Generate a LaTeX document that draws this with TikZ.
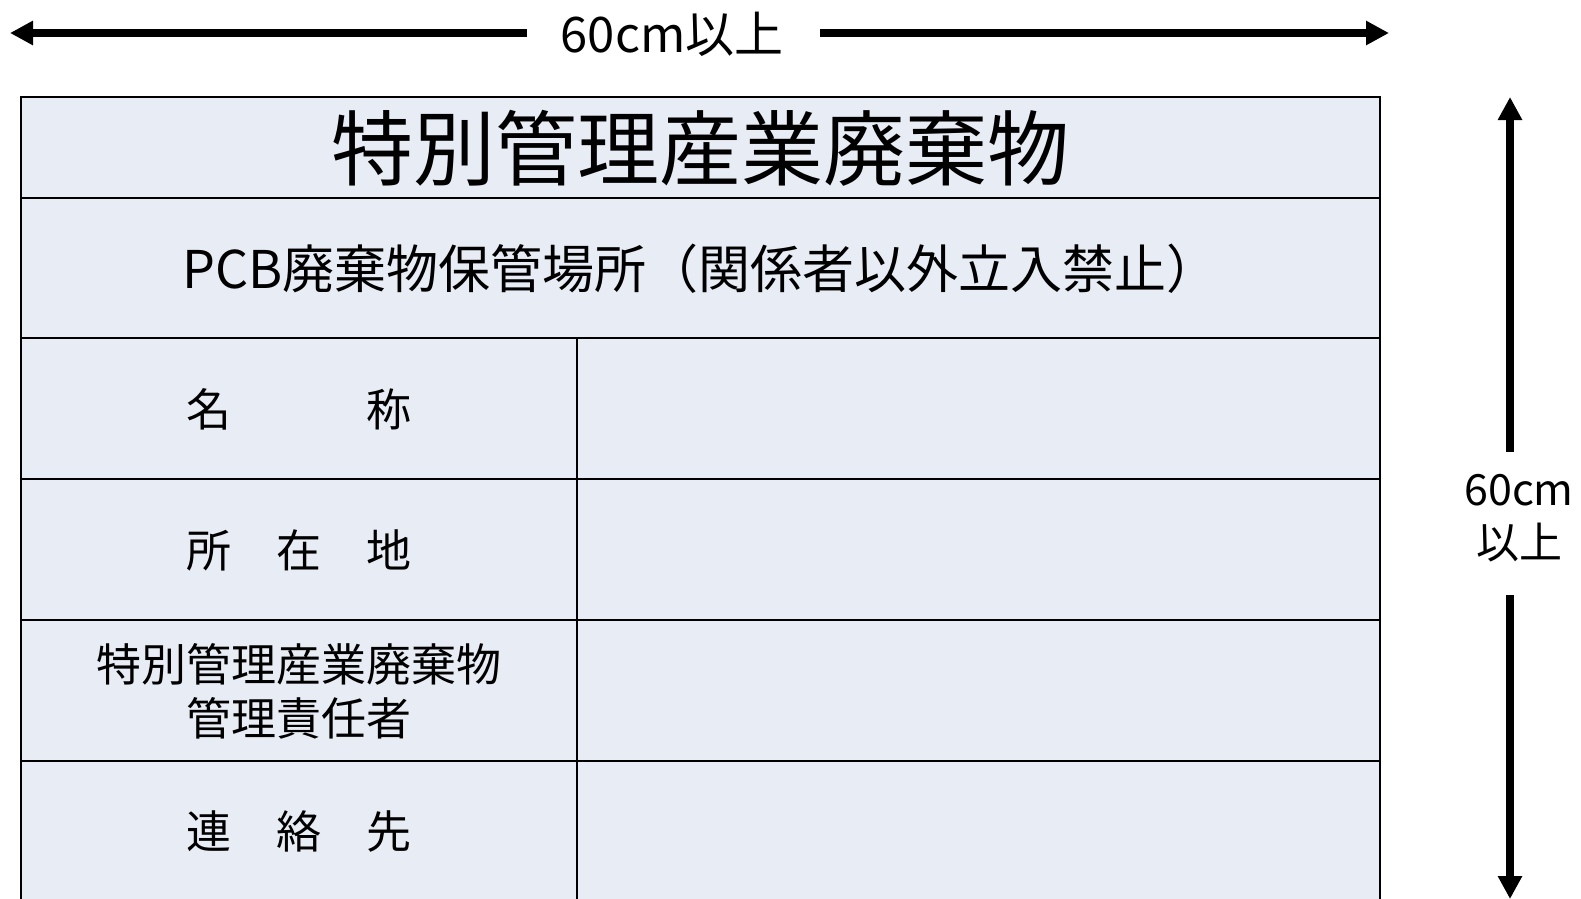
\documentclass[tikz,border=0pt]{standalone}
\usepackage{fontspec}
\setmainfont{Noto Sans CJK JP}
\usetikzlibrary{arrows.meta}
\definecolor{cellfill}{RGB}{232,236,245}
\begin{document}
\begin{tikzpicture}[x=1pt,y=-1pt,
  dim/.style={line width=8pt,draw=black,-{Triangle[length=23pt,width=23pt]}},
  gridline/.style={line width=2.6pt,draw=black},
  lbl/.style={inner sep=0pt,anchor=center,text=black,align=center}]
\useasboundingbox (0,0) rectangle (1581,898);
% table background
\path[fill=cellfill] (21,97) rectangle (1380,903);
% grid
\draw[gridline] (21,97) rectangle (1380,903);
\draw[gridline] (21,198) -- (1380,198);
\draw[gridline] (21,338) -- (1380,338);
\draw[gridline] (21,479) -- (1380,479);
\draw[gridline] (21,620) -- (1380,620);
\draw[gridline] (21,761) -- (1380,761);
\draw[gridline] (577,338) -- (577,903);
% texts
\node[lbl,font=\fontsize{82}{90}\selectfont] (title) at (700.5,148) {特別管理産業廃棄物};
\node[lbl,font=\fontsize{52}{60}\selectfont] (sub) at (700.5,269) {PCB廃棄物保管場所（関係者以外立入禁止）};
\node[lbl,font=\fontsize{45}{54}\selectfont] (name) at (299,409) {名　　　称};
\node[lbl,font=\fontsize{45}{54}\selectfont] (addr) at (299,550) {所　在　地};
\node[lbl,font=\fontsize{45}{54}\selectfont] (mgr) at (299,691) {特別管理産業廃棄物\\管理責任者};
\node[lbl,font=\fontsize{45}{54}\selectfont] (tel) at (299,831) {連　絡　先};
% dimension labels
\node[lbl,font=\fontsize{49}{56}\selectfont] (wlabel) at (672,34) {60cm以上};
\node[lbl,font=\fontsize{43}{53}\selectfont] (hlabel) at (1519,518) {60cm\\以上};
% dimension arrows
\coordinate (wl1) at (527,33);
\coordinate (wl2) at (10,33);
\coordinate (wr1) at (820,33);
\coordinate (wr2) at (1389,33);
\coordinate (ht1) at (1510,452);
\coordinate (ht2) at (1510,97);
\coordinate (hb1) at (1510,595);
\coordinate (hb2) at (1510,899);
\draw[dim] (wl1) -- (wl2);
\draw[dim] (wr1) -- (wr2);
\draw[dim] (ht1) -- (ht2);
\draw[dim] (hb1) -- (hb2);
\end{tikzpicture}
\end{document}
